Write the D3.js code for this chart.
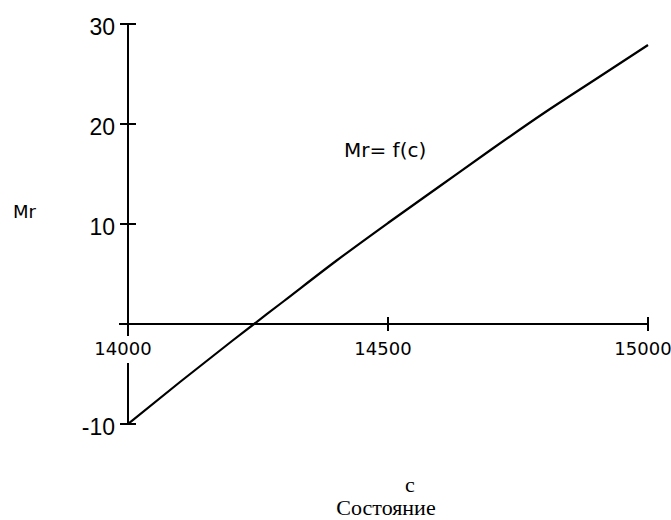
<!DOCTYPE html>
<html>
<head>
<meta charset="utf-8">
<script src="https://cdn.jsdelivr.net/npm/d3@7"></script>
<style>
  body { margin: 0; background: #fff; }
  svg { display: block; }
</style>
</head>
<body>
<svg id="chart" width="671" height="520"></svg>
<script>
// curve: c -> Mr
var cValues  = [14000, 14100, 14200, 14300, 14400, 14500, 14600, 14700, 14800, 14900, 15000];
var mrValues = [-10, -5.8, -1.7, 2.3, 6.3, 10.1, 13.8, 17.5, 21.1, 24.5, 27.9];

var xTicks = [14000, 14500, 15000];
var yTicks = [30, 20, 10, -10];

var svg = d3.select("#chart");

// scales
var x = d3.scaleLinear().domain([14000, 15000]).range([128, 648]);
var y = d3.scaleLinear().domain([-10, 30]).range([424, 24]);

var x0 = x(14000), y0 = y(0);

// y axis line
svg.append("line")
    .attr("x1", x0).attr("x2", x0)
    .attr("y1", y(30)).attr("y2", y(-10))
    .attr("stroke", "#000").attr("stroke-width", 2);

// x axis line (starts a little left of the y axis)
svg.append("line")
    .attr("x1", x0 - 9).attr("x2", x(15000))
    .attr("y1", y0).attr("y2", y0)
    .attr("stroke", "#000").attr("stroke-width", 2);

// y ticks + labels
yTicks.forEach(function (t) {
    svg.append("line")
        .attr("x1", x0 - 8).attr("x2", x0 + 8)
        .attr("y1", y(t)).attr("y2", y(t))
        .attr("stroke", "#000").attr("stroke-width", 2);
    svg.append("text")
        .attr("x", x0 - 13).attr("y", y(t) + 11)
        .attr("text-anchor", "end")
        .style("font-family", "'Liberation Sans', Arial, sans-serif")
        .style("font-size", "23px")
        .text(t < 0 ? "-" + Math.abs(t) : t);
});

// x ticks + labels
xTicks.forEach(function (t) {
    svg.append("line")
        .attr("x1", x(t)).attr("x2", x(t))
        .attr("y1", y0 - 7).attr("y2", y0 + 7)
        .attr("stroke", "#000").attr("stroke-width", 2);
    var lbl = svg.append("text")
        .attr("x", x(t) - 5).attr("y", y0 + 31)
        .attr("text-anchor", "middle")
        .style("font-family", "'DejaVu Sans', sans-serif")
        .style("font-size", "18px")
        .text(t);
    if (t === 14000) {
        // label sits on the y axis, blank it out behind the text
        var bb = lbl.node().getBBox();
        svg.insert("rect", "text")
            .attr("x", bb.x - 2).attr("y", bb.y - 2)
            .attr("width", bb.width + 4).attr("height", bb.height + 6)
            .attr("fill", "#fff");
    }
});

// curve
var line = d3.line()
    .x(function (d, i) { return x(cValues[i]); })
    .y(function (d) { return y(d); })
    .curve(d3.curveMonotoneX);

svg.append("path")
    .datum(mrValues)
    .attr("d", line)
    .attr("fill", "none")
    .attr("stroke", "#000")
    .attr("stroke-width", 2.2);

// texts
svg.append("text")
    .attr("x", 13).attr("y", 218)
    .style("font-family", "'DejaVu Sans', sans-serif")
    .style("font-size", "18px")
    .text("Mr");

svg.append("text")
    .attr("x", 344).attr("y", 157)
    .style("font-family", "'DejaVu Sans', sans-serif")
    .style("font-size", "20px")
    .text("Mr= f(c)");

svg.append("text")
    .attr("x", 410).attr("y", 492)
    .attr("text-anchor", "middle")
    .style("font-family", "'Liberation Serif', 'Times New Roman', serif")
    .style("font-size", "22px")
    .text("c");

svg.append("text")
    .attr("x", 386).attr("y", 515)
    .attr("text-anchor", "middle")
    .style("font-family", "'Liberation Serif', 'Times New Roman', serif")
    .style("font-size", "22px")
    .text("Состояние");
</script>
</body>
</html>
